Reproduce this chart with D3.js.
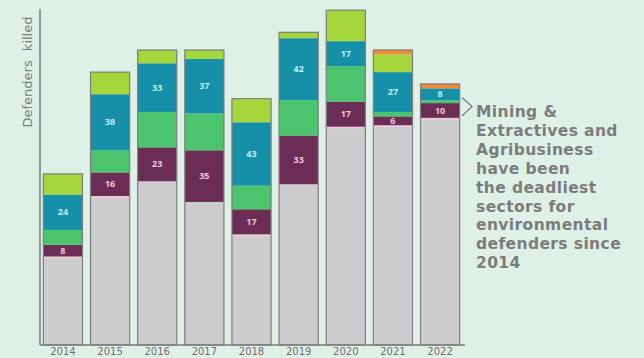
<!DOCTYPE html>
<html>
<head>
<meta charset="utf-8">
<script src="https://cdn.jsdelivr.net/npm/d3@7/dist/d3.min.js"></script>
<style>
  html, body { margin: 0; padding: 0; background: #dff1e6; }
  svg { display: block; }
</style>
</head>
<body>
<svg id="chart" width="644" height="358"></svg>
<script>
// Defenders killed per year, stacked by sector (bottom to top)
const years = ["2014", "2015", "2016", "2017", "2018", "2019", "2020", "2021", "2022"];
const otherSectors   = [59, 100, 111, 97, 74, 109, 147, 148, 153];
const unknownSector  = [1, 1, 0, 0, 1, 0, 1, 1, 1];
const agribusiness   = [8, 16, 23, 35, 17, 33, 17, 6, 10];
const logging        = [10, 15, 24, 25, 16, 24, 24, 3, 2];
const miningExtract  = [24, 38, 33, 37, 43, 42, 17, 27, 8];
const waterDams      = [14, 15, 9, 6, 16, 4, 21, 12, 0];
const roads          = [0, 0, 0, 0, 0, 0, 0, 3, 3];

const annotationLines = ["Mining &", "Extractives and", "Agribusiness", "have been",
  "the deadliest", "sectors for", "environmental", "defenders since", "2014"];

const series = [
  { key: "other",   values: otherSectors,  color: "#cdcdcf" },
  { key: "unknown", values: unknownSector, color: "#efc9d9" },
  { key: "agri",    values: agribusiness,  color: "#6b2d55", label: "#f3c6dc" },
  { key: "logging", values: logging,       color: "#4cc46e" },
  { key: "mining",  values: miningExtract, color: "#168fa8", label: "#bdeeff" },
  { key: "water",   values: waterDams,     color: "#a5d63c" },
  { key: "roads",   values: roads,         color: "#f08a34" }
];

const rows = years.map((y, i) => {
  const r = { year: y };
  series.forEach(s => { r[s.key] = s.values[i]; });
  return r;
});

const stack = d3.stack().keys(series.map(s => s.key));
const layers = stack(rows);

const svg = d3.select("#chart");
const baseY = 345;

const x = d3.scaleBand().domain(years).range([41, 462]).paddingInner(0.17).paddingOuter(0.05);
const y = d3.scaleLinear().domain([0, 230]).range([baseY, baseY - 230 * 1.475]);

// stacked segments
const g = svg.append("g");
layers.forEach((layer, li) => {
  const s = series[li];
  g.selectAll(null)
    .data(layer)
    .enter()
    .append("rect")
    .attr("x", d => x(d.data.year))
    .attr("width", x.bandwidth())
    .attr("y", d => y(d[1]))
    .attr("height", d => Math.max(0, y(d[0]) - y(d[1])))
    .attr("fill", s.color);
});

// outline around each full bar
const totals = rows.map(r => ({ year: r.year, total: d3.sum(series, s => r[s.key]) }));
g.selectAll(".outline")
  .data(totals)
  .enter()
  .append("rect")
  .attr("x", d => x(d.year))
  .attr("width", x.bandwidth())
  .attr("y", d => y(d.total))
  .attr("height", d => baseY - y(d.total))
  .attr("fill", "none")
  .attr("stroke", "#7d7d7d")
  .attr("stroke-width", 1.2);

// value labels on the two highlighted sectors
layers.forEach((layer, li) => {
  const s = series[li];
  if (!s.label) return;
  g.selectAll(null)
    .data(layer)
    .enter()
    .append("text")
    .attr("x", d => x(d.data.year) + x.bandwidth() / 2)
    .attr("y", d => (y(d[0]) + y(d[1])) / 2)
    .attr("dy", "0.35em")
    .attr("text-anchor", "middle")
    .attr("font-family", "Open Sans, sans-serif")
    .attr("font-weight", 700)
    .attr("font-size", 9)
    .attr("fill", s.label)
    .text(d => d.data[s.key]);
});

// x axis with year labels
const xAxis = d3.axisBottom(x).tickSize(0).tickPadding(3);
const ax = svg.append("g").attr("transform", `translate(0,${baseY})`).call(xAxis);
ax.select(".domain").attr("d", "M40,0H465").attr("stroke", "#7d7d7d").attr("stroke-width", 1.5);
ax.selectAll("text")
  .attr("font-family", "DejaVu Sans, sans-serif")
  .attr("font-size", 10)
  .attr("fill", "#6e6e6e");

// y axis line (no ticks)
const yAxis = d3.axisLeft(y).ticks(0).tickSize(0).tickSizeOuter(0);
const ay = svg.append("g").attr("transform", "translate(40,0)").call(yAxis);
ay.select(".domain").attr("d", `M0,${baseY}V9`).attr("stroke", "#7d7d7d").attr("stroke-width", 1.5);

svg.append("text")
  .attr("transform", "translate(32,72) rotate(-90)")
  .attr("text-anchor", "middle")
  .attr("font-family", "DejaVu Sans, sans-serif")
  .attr("font-size", 13)
  .attr("word-spacing", 5)
  .attr("fill", "#7a7a7a")
  .text("Defenders killed");

// annotation with pointer chevron
svg.append("path")
  .attr("d", "M462,97.5L472,106.5L462,116")
  .attr("fill", "none")
  .attr("stroke", "#7d7d7d")
  .attr("stroke-width", 1.3);

const note = svg.append("text")
  .attr("font-family", "DejaVu Sans, sans-serif")
  .attr("font-weight", 700)
  .attr("font-size", 15.5)
  .attr("letter-spacing", 0.4)
  .attr("fill", "#7c7c7c");
annotationLines.forEach((line, i) => {
  note.append("tspan").attr("x", 476).attr("y", 117 + i * 18.9).text(line);
});
</script>
</body>
</html>
